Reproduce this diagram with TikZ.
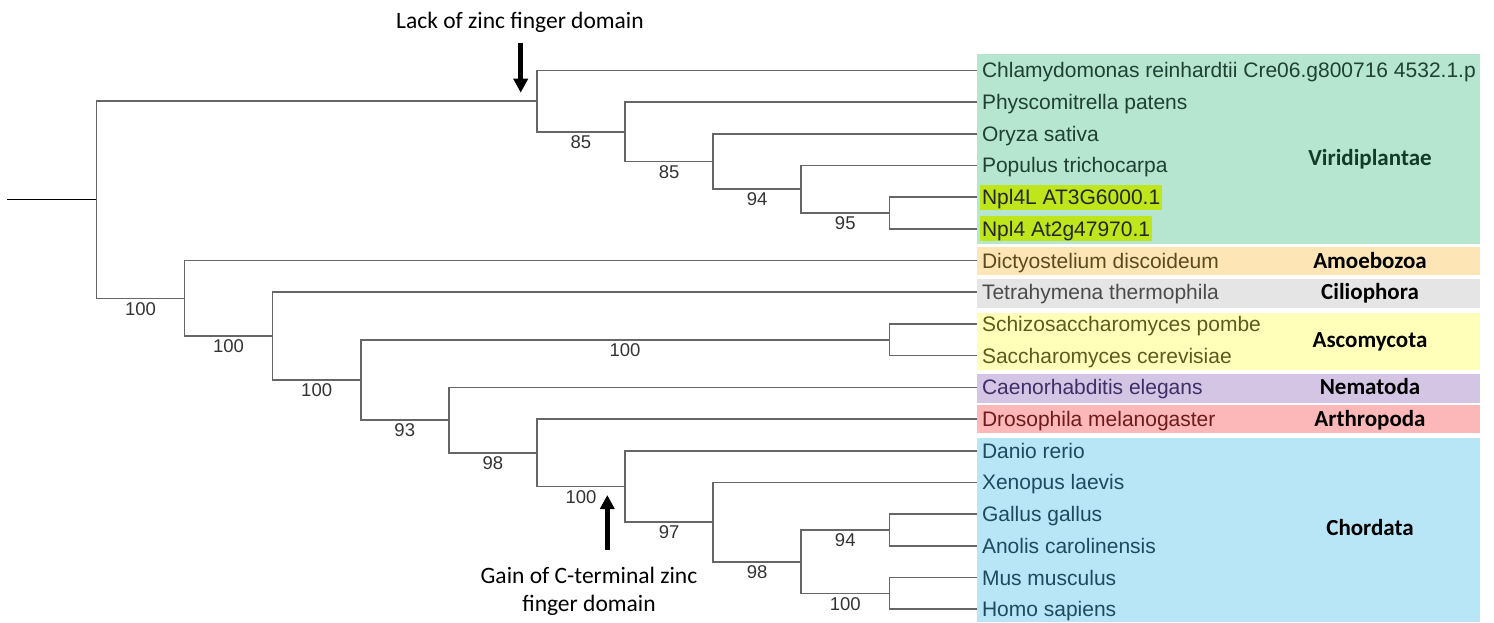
\documentclass[tikz,border=0pt]{standalone}
\usepackage{fontspec}
\setmainfont{Liberation Sans}
\newfontfamily\notefont{Carlito}
\usetikzlibrary{arrows.meta}

\definecolor{vegbg}{HTML}{B6E6CF}
\definecolor{amoebg}{HTML}{FDE5B5}
\definecolor{ciliobg}{HTML}{E5E5E5}
\definecolor{ascobg}{HTML}{FFFFBA}
\definecolor{nemabg}{HTML}{D5C5E5}
\definecolor{arthbg}{HTML}{FCB8B8}
\definecolor{chorbg}{HTML}{B8E6F7}
\definecolor{hilite}{HTML}{BEE61A}
\definecolor{vegtxt}{HTML}{1F4035}
\definecolor{vegname}{HTML}{123B28}
\definecolor{amoetxt}{HTML}{5B4A1F}
\definecolor{ciliotxt}{HTML}{4B4B4B}
\definecolor{ascotxt}{HTML}{5E5A1E}
\definecolor{nematxt}{HTML}{3C2F66}
\definecolor{arthtxt}{HTML}{6E1A1A}
\definecolor{chortxt}{HTML}{1E4A5E}

\tikzset{
  branch/.style  = {draw=black!60, line width=1.6pt},
  leaf/.style    = {anchor=west, inner xsep=2pt, inner ysep=5pt, outer xsep=3pt,
                    text height=15pt, text depth=0pt, font=\fontsize{21}{24}\selectfont},
  boot/.style    = {pos=.75, below=2pt, inner sep=1pt, text=black!80,
                    font=\fontsize{18.5}{21}\selectfont},
  group/.style   = {text height=15pt, text depth=0pt, font=\notefont\bfseries\fontsize{23}{27}\selectfont},
  note/.style    = {align=center, inner sep=0pt, font=\notefont\fontsize{23.5}{28}\selectfont},
  pointer/.style = {-{Triangle[width=14pt,length=14pt]}, line width=4.5pt},
}

\begin{document}
\begin{tikzpicture}[x=1pt, y=-1pt]
      \useasboundingbox (0,0) rectangle (1494,622);

      % clade bands
      \fill[vegbg]   (977,54)    rectangle (1480,243.5);
      \fill[amoebg]  (977,246.5) rectangle (1480,274.5);
      \fill[ciliobg] (977,279)   rectangle (1480,307.5);
      \fill[ascobg]  (977,312.5) rectangle (1480,369.5);
      \fill[nemabg]  (977,374)   rectangle (1480,402.5);
      \fill[arthbg]  (977,404.5) rectangle (1480,433);
      \fill[chorbg]  (977,437.5) rectangle (1480,622);

      % leaves
      \node[leaf, text=vegtxt]   (chla)  at (977,70.3)  {Chlamydomonas reinhardtii Cre06.g800716 4532.1.p};
      \node[leaf, text=vegtxt]   (phys)  at (977,102.0) {Physcomitrella patens};
      \node[leaf, text=vegtxt]   (oryz)  at (977,133.7) {Oryza sativa};
      \node[leaf, text=vegtxt]   (popu)  at (977,165.4) {Populus trichocarpa};
      \node[leaf, fill=hilite, text=black!85] (npl4l) at (977,197.1) {Npl4L AT3G6000.1};
      \node[leaf, fill=hilite, text=black!85] (npl4)  at (977,228.8) {Npl4 At2g47970.1};
      \node[leaf, text=amoetxt]  (dict)  at (977,260.5) {Dictyostelium discoideum};
      \node[leaf, text=ciliotxt] (tetr)  at (977,292.2) {Tetrahymena thermophila};
      \node[leaf, text=ascotxt]  (schi)  at (977,323.9) {Schizosaccharomyces pombe};
      \node[leaf, text=ascotxt]  (sacc)  at (977,355.6) {Saccharomyces cerevisiae};
      \node[leaf, text=nematxt]  (caen)  at (977,387.3) {Caenorhabditis elegans};
      \node[leaf, text=arthtxt]  (dros)  at (977,419.0) {Drosophila melanogaster};
      \node[leaf, text=chortxt]  (dani)  at (977,450.7) {Danio rerio};
      \node[leaf, text=chortxt]  (xeno)  at (977,482.4) {Xenopus laevis};
      \node[leaf, text=chortxt]  (gall)  at (977,514.1) {Gallus gallus};
      \node[leaf, text=chortxt]  (anol)  at (977,545.8) {Anolis carolinensis};
      \node[leaf, text=chortxt]  (musm)  at (977,577.5) {Mus musculus};
      \node[leaf, text=chortxt]  (homo)  at (977,609.2) {Homo sapiens};

      % clade names
      \node[group, text=vegname] (vegN)  at (1370,158)   {Viridiplantae};
      \node[group] (amoeN)  at (1370,260.5) {Amoebozoa};
      \node[group] (cilioN) at (1370,292.2) {Ciliophora};
      \node[group] (ascoN)  at (1370,339.8) {Ascomycota};
      \node[group] (nemaN)  at (1370,387.3) {Nematoda};
      \node[group] (arthN)  at (1370,419.0) {Arthropoda};
      \node[group] (chorN)  at (1370,528.3) {Chordata};

      % inner nodes
      \coordinate (stub)  at (7,199.6);
      \coordinate (root)  at (96.4,199.6);
      \coordinate (vir)   at (536.9,101);
      \coordinate (vA)    at (625.0,131.7);
      \coordinate (vB)    at (713.1,161.4);
      \coordinate (vC)    at (801.2,189.2);
      \coordinate (vD)    at (889.3,213.0);
      \coordinate (euk)   at (184.5,298.3);
      \coordinate (n2)    at (272.6,336.0);
      \coordinate (n3)    at (360.7,379.9);
      \coordinate (yeast) at (889.3,339.8);
      \coordinate (n4)    at (448.8,420.0);
      \coordinate (n5)    at (536.9,452.7);
      \coordinate (chord) at (625.0,486.4);
      \coordinate (tetra) at (713.1,522.0);
      \coordinate (amni)  at (801.2,561.7);
      \coordinate (sauro) at (889.3,530.0);
      \coordinate (mamm)  at (889.3,593.4);

      \draw[branch, draw=black] (stub) -- (root);
      \draw[branch] (root)  |- (vir);
      \draw[branch] (root)  |- node[boot] (b1) {100} (euk);
      \draw[branch] (vir)   |- (chla);
      \draw[branch] (vir)   |- node[boot] (b2) {85} (vA);
      \draw[branch] (vA)    |- (phys);
      \draw[branch] (vA)    |- node[boot] (b3) {85} (vB);
      \draw[branch] (vB)    |- (oryz);
      \draw[branch] (vB)    |- node[boot] (b4) {94} (vC);
      \draw[branch] (vC)    |- (popu);
      \draw[branch] (vC)    |- node[boot] (b5) {95} (vD);
      \draw[branch] (vD)    |- (npl4l);
      \draw[branch] (vD)    |- (npl4);
      \draw[branch] (euk)   |- (dict);
      \draw[branch] (euk)   |- node[boot] (b6) {100} (n2);
      \draw[branch] (n2)    |- (tetr);
      \draw[branch] (n2)    |- node[boot] (b7) {100} (n3);
      \draw[branch] (n3)    |- node[boot] (b8) {100} (yeast);
      \draw[branch] (n3)    |- node[boot] (b9) {93} (n4);
      \draw[branch] (yeast) |- (schi);
      \draw[branch] (yeast) |- (sacc);
      \draw[branch] (n4)    |- (caen);
      \draw[branch] (n4)    |- node[boot] (b10) {98} (n5);
      \draw[branch] (n5)    |- (dros);
      \draw[branch] (n5)    |- node[boot] (b11) {100} (chord);
      \draw[branch] (chord) |- (dani);
      \draw[branch] (chord) |- node[boot] (b12) {97} (tetra);
      \draw[branch] (tetra) |- (xeno);
      \draw[branch] (tetra) |- node[boot] (b13) {98} (amni);
      \draw[branch] (amni)  |- node[boot] (b14) {94} (sauro);
      \draw[branch] (amni)  |- node[boot] (b15) {100} (mamm);
      \draw[branch] (sauro) |- (gall);
      \draw[branch] (sauro) |- (anol);
      \draw[branch] (mamm)  |- (musm);
      \draw[branch] (mamm)  |- (homo);

      % annotations
      \node[note, anchor=base] (lack) at (520,28.3) {Lack of zinc finger domain};
      \coordinate (lackTail) at (520.7,42.7);
      \coordinate (lackTip)  at (520.7,92.7);
      \draw[pointer] (lackTail) -- (lackTip);

      \node[note, anchor=north] (gain) at (589,567) {Gain of C-terminal zinc\\finger domain};
      \coordinate (gainTail) at (607.3,550);
      \coordinate (gainTip)  at (607.3,495);
      \draw[pointer] (gainTail) -- (gainTip);
    \end{tikzpicture}
\end{document}
